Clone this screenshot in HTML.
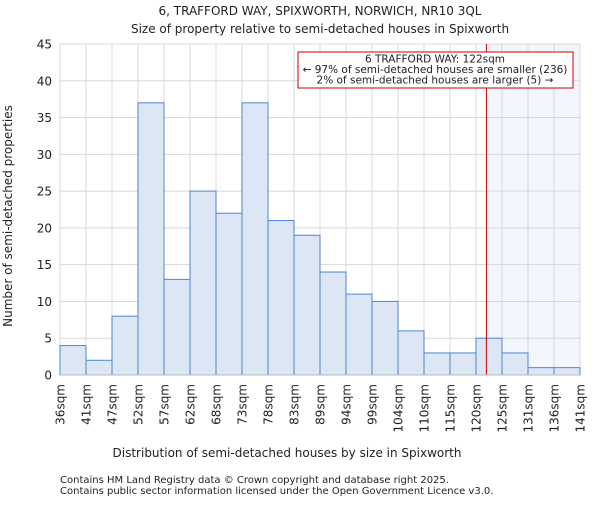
<!DOCTYPE html>
<html><head><meta charset="utf-8"><style>
body{margin:0;background:#fff;}
svg text{font-family:"DejaVu Sans","Liberation Sans",sans-serif;fill:#222;}
</style></head><body>
<svg id="chart" width="600" height="500" xmlns="http://www.w3.org/2000/svg">
<text x="320" y="15" font-size="12" text-anchor="middle">6, TRAFFORD WAY, SPIXWORTH, NORWICH, NR10 3QL</text>
<text x="320" y="33" font-size="12" text-anchor="middle">Size of property relative to semi-detached houses in Spixworth</text>
<g id="grid"></g><g id="bars"></g><g id="axes"></g>
<text x="287" y="457" font-size="12" text-anchor="middle">Distribution of semi-detached houses by size in Spixworth</text>
<text transform="translate(12,216) rotate(-90)" font-size="12" text-anchor="middle">Number of semi-detached properties</text>
<text x="60" y="483" font-size="10" fill="#444">Contains HM Land Registry data © Crown copyright and database right 2025.</text>
<text x="60" y="494" font-size="10" fill="#444">Contains public sector information licensed under the Open Government Licence v3.0.</text>
</svg>
<script>
const categories=["36sqm","41sqm","47sqm","52sqm","57sqm","62sqm","68sqm","73sqm","78sqm","83sqm","89sqm","94sqm","99sqm","104sqm","110sqm","115sqm","120sqm","125sqm","131sqm","136sqm","141sqm"];
const counts=[4,2,8,37,13,25,22,37,21,19,14,11,10,6,3,3,5,3,1,1];
const yTicks=[0,5,10,15,20,25,30,35,40,45];
const markerIndex=16.4;
const NS="http://www.w3.org/2000/svg";
const x0=60,x1=580,y0=375,y1=44,yMax=45;
const bw=(x1-x0)/counts.length;
const xs=i=>x0+i*bw;
const ys=v=>y0-v*(y0-y1)/yMax;
function mk(tag,attrs,parent){const e=document.createElementNS(NS,tag);for(const k in attrs)e.setAttribute(k,attrs[k]);document.getElementById(parent).appendChild(e);return e;}
const mx=xs(markerIndex);
let r=mk("rect",{x:mx,y:y1,width:x1-mx,height:y0-y1,fill:"#f3f6fd"},"grid");


yTicks.forEach(t=>{
 let l=mk("line",{x1:x0,x2:x1,y1:ys(t),y2:ys(t),stroke:"#d8d8d8","stroke-width":1},"grid");
 
 
 let tx=mk("text",{x:x0-8,y:ys(t)+4.5,"font-size":12,"text-anchor":"end"},"axes");
 tx.textContent=t;
 
 
});
categories.forEach((c,i)=>{
 let l=mk("line",{x1:xs(i),x2:xs(i),y1:y1,y2:y0,stroke:"#d8d8d8","stroke-width":1},"grid");
 
 
 let tx=mk("text",{transform:`translate(${xs(i)+4.5},384) rotate(-90)`,"font-size":12,"text-anchor":"end"},"axes");
 tx.textContent=c;
 
 
});
counts.forEach((v,i)=>{
 let b=mk("rect",{x:xs(i),y:ys(v),width:bw,height:y0-ys(v),fill:"#dde6f4",stroke:"#4f86d0","stroke-width":1},"bars");
 
 
});
let ax=mk("line",{x1:x0,x2:x1,y1:y0,y2:y0,stroke:"#bbb","stroke-width":1},"axes");


let ml=mk("line",{x1:mx,x2:mx,y1:y1,y2:y0,stroke:"#d00000","stroke-width":1},"bars");


let box=mk("rect",{x:298,y:52,width:275,height:36,fill:"#fff",stroke:"#cc0000","stroke-width":1},"axes");


["6 TRAFFORD WAY: 122sqm","← 97% of semi-detached houses are smaller (236)","2% of semi-detached houses are larger (5) →"].forEach((s,i)=>{
 let t=mk("text",{x:435,y:62.5+i*10.5,"font-size":10.5,"text-anchor":"middle"},"axes");
 t.textContent=s;
 
 
});
</script>
</body></html>
